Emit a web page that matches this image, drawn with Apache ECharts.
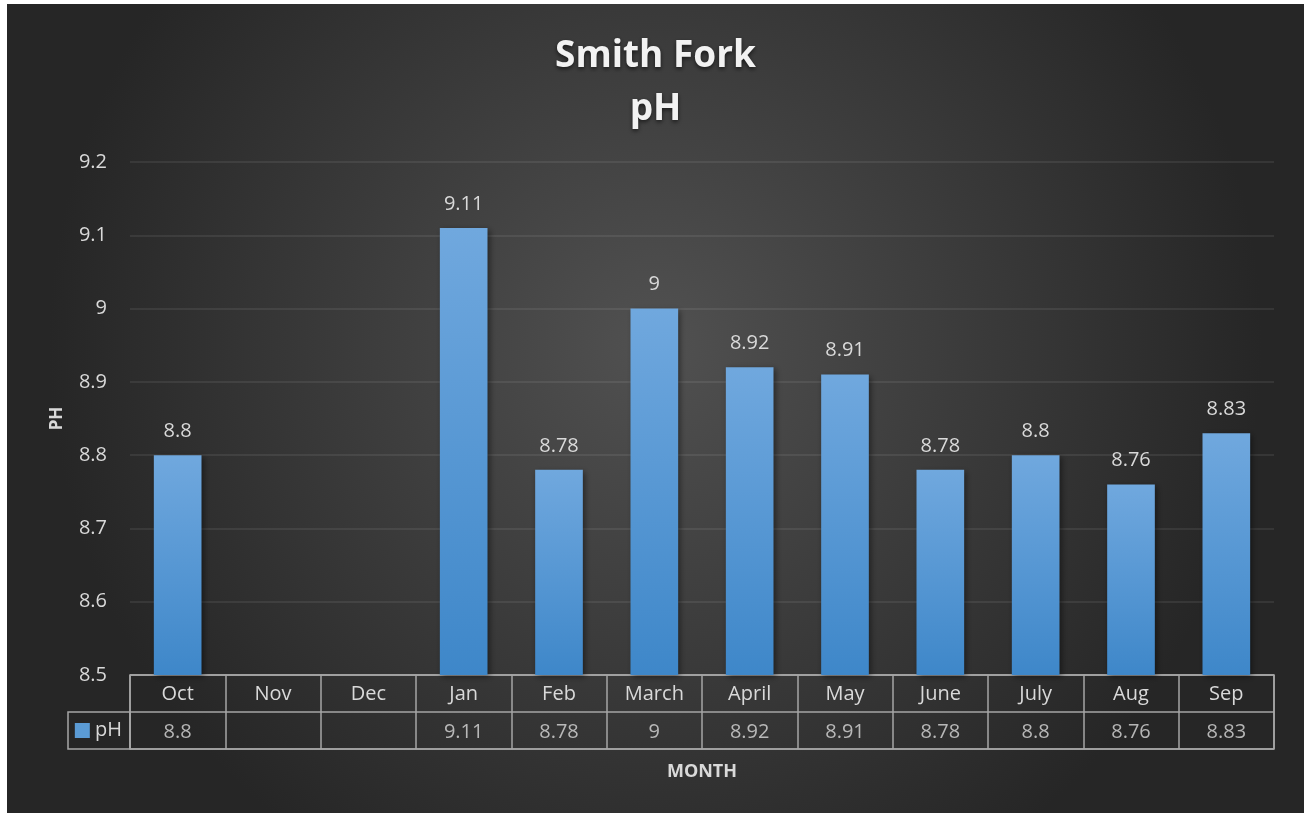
<!DOCTYPE html>
<html>
<head>
<meta charset="utf-8">
<script src="https://cdn.jsdelivr.net/npm/echarts@6/dist/echarts.min.js"></script>
<style>
  html, body { margin: 0; padding: 0; background: #ffffff; }
  #chart { position: absolute; left: 7px; top: 4px; width: 1297px; height: 809px; }
</style>
</head>
<body>
<div id="chart"></div>
<script>
// 月份
var months = ['Oct', 'Nov', 'Dec', 'Jan', 'Feb', 'March', 'April', 'May', 'June', 'July', 'Aug', 'Sep'];
// pH 数值（Nov、Dec 无数据）
var phValues = [8.8, null, null, 9.11, 8.78, 9, 8.92, 8.91, 8.78, 8.8, 8.76, 8.83];
// 数据表的行
var tableRows = ['pH', ''];

var textColor = '#d9d9d9';
var lineColor = '#a6a6a6';
var font = 'Open Sans';

var chart = echarts.init(document.getElementById('chart'));

// 数据表中的数值单元格
var cells = [];
phValues.forEach(function (v, i) {
  if (v !== null) {
    cells.push([i, 0, v]);
  }
});

var barColor = new echarts.graphic.LinearGradient(0, 0, 0, 1, [
  { offset: 0, color: '#70a8de' },
  { offset: 1, color: '#3e87c9' }
]);

var option = {
  backgroundColor: {
    type: 'radial', x: 0.5, y: 0.42, r: 0.75,
    colorStops: [
      { offset: 0, color: '#515151' },
      { offset: 1, color: '#262626' }
    ]
  },
  textStyle: { fontFamily: font },
  title: {
    text: 'Smith Fork\npH',
    left: 'center',
    top: 21,
    textStyle: {
      color: '#f2f2f2',
      fontSize: 37,
      fontWeight: 'bold',
      fontFamily: font,
      lineHeight: 53,
      textShadowColor: 'rgba(0,0,0,0.6)',
      textShadowBlur: 4,
      textShadowOffsetY: 2
    }
  },
  grid: [
    // 柱状图区域
    { left: 123, right: 30, top: 158, height: 513 },
    // 数据表区域
    { left: 123, right: 30, top: 671, height: 74, show: true, borderColor: lineColor, borderWidth: 1.5 }
  ],
  xAxis: [
    {
      type: 'category',
      gridIndex: 0,
      data: months,
      axisLine: { show: false },
      axisTick: { show: false },
      axisLabel: { color: textColor, fontSize: 20, margin: 9, interval: 0 },
      name: 'MONTH',
      nameLocation: 'middle',
      nameGap: 88,
      nameTextStyle: { color: textColor, fontSize: 18, fontWeight: 'bold' }
    },
    {
      type: 'category',
      gridIndex: 1,
      data: months,
      axisLine: { show: false },
      axisTick: { show: false },
      axisLabel: { show: false },
      splitLine: { show: true, interval: 0, lineStyle: { color: lineColor, width: 1.5 } }
    }
  ],
  yAxis: [
    {
      type: 'value',
      gridIndex: 0,
      min: 8.5,
      max: 9.2,
      interval: 0.1,
      axisLine: { show: false },
      axisTick: { show: false },
      axisLabel: { color: textColor, fontSize: 20, margin: 23 },
      splitLine: { lineStyle: { color: 'rgba(255,255,255,0.1)', width: 1.5 } },
      name: 'PH',
      nameLocation: 'middle',
      nameRotate: 90,
      nameGap: 64,
      nameTextStyle: { color: textColor, fontSize: 17, fontWeight: 'bold' }
    },
    {
      type: 'category',
      gridIndex: 1,
      data: tableRows,
      axisLine: { show: false },
      axisTick: { show: false },
      axisLabel: {
        margin: 8,
        formatter: function (v) {
          return v ? '{sq|}{t| ' + v + '}' : '';
        },
        rich: {
          sq: { width: 15, height: 15, backgroundColor: '#5b9bd5' },
          t: { color: textColor, fontSize: 20, fontFamily: font }
        }
      },
      splitLine: { show: true, interval: 0, lineStyle: { color: lineColor, width: 1.5 } }
    }
  ],
  graphic: [
    // 图例单元格边框
    {
      type: 'rect',
      shape: { x: 61, y: 708, width: 62, height: 37 },
      style: { fill: 'none', stroke: lineColor, lineWidth: 1.5 },
      silent: true
    }
  ],
  series: [
    {
      name: 'pH',
      type: 'bar',
      xAxisIndex: 0,
      yAxisIndex: 0,
      data: phValues,
      barWidth: '50%',
      itemStyle: {
        color: barColor,
        shadowColor: 'rgba(0,0,0,0.45)',
        shadowBlur: 6,
        shadowOffsetX: 2,
        shadowOffsetY: 2
      },
      label: {
        show: true,
        position: 'top',
        distance: 14,
        color: textColor,
        fontSize: 20,
        fontFamily: font
      }
    },
    {
      name: 'table',
      type: 'scatter',
      xAxisIndex: 1,
      yAxisIndex: 1,
      data: cells,
      symbolSize: 0,
      silent: true,
      label: {
        show: true,
        position: 'inside',
        offset: [0, 2],
        color: textColor,
        fontSize: 20,
        fontFamily: font,
        formatter: function (p) { return String(p.value[2]); }
      }
    }
  ]
};

chart.setOption(option);
</script>
</body>
</html>
